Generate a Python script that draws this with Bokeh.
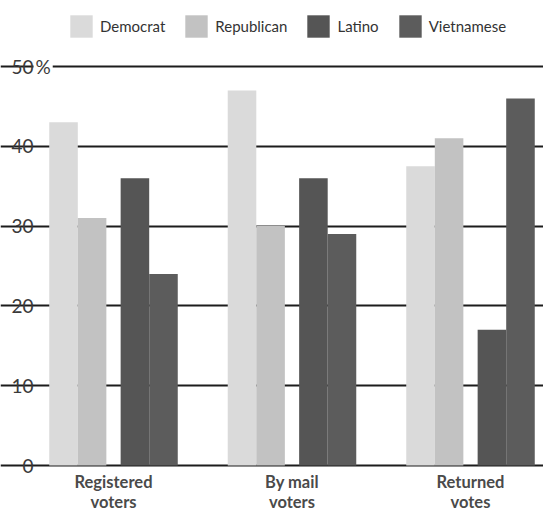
from bokeh.plotting import figure
from bokeh.models import ColumnDataSource, Range1d, FixedTicker, Legend, LegendItem
from bokeh.transform import dodge
from bokeh.core.properties import value
from bokeh.embed import file_html
from bokeh.resources import INLINE

# ---- data ----
categories = ["Registered\nvoters", "By mail\nvoters", "Returned\nvotes"]
series_names = ["Democrat", "Republican", "Latino", "Vietnamese"]
democrat = [43, 47, 37.5]
republican = [31, 30, 41]
latino = [36, 36, 17]
vietnamese = [24, 29, 46]
y_ticks = [0, 10, 20, 30, 40, 50]
y_tick_labels = ["0", "10", "20", "30", "40", "50"]
unit_suffix = "%"

FONT = "Lato"

# ---- layout constants ----
PX_PER_UNIT_X = 178.5
GROUP0_PX = 113.0           # canvas x of first group centre
W, H = 543, 510
ZERO_PX = 465.0             # canvas y of the 0 line
TOP_PX = 66.0               # canvas y of the 50 line
PX_PER_PCT = (ZERO_PX - TOP_PX) / 50.0

x_start = -GROUP0_PX / PX_PER_UNIT_X
x_end = x_start + W / PX_PER_UNIT_X
y_start = -(H - ZERO_PX) / PX_PER_PCT
y_end = ZERO_PX / PX_PER_PCT

p = figure(width=W, height=H, output_backend="svg", toolbar_location=None,
           x_range=Range1d(x_start, x_end), y_range=Range1d(y_start, y_end),
           min_border_left=0, min_border_right=0, min_border_top=0, min_border_bottom=0)
p.outline_line_color = None
p.background_fill_color = "white"
p.border_fill_color = "white"
p.xaxis.visible = False
p.yaxis.visible = False
p.xgrid.visible = False

grid_left = (42 - GROUP0_PX) / PX_PER_UNIT_X
p.ygrid.ticker = FixedTicker(ticks=y_ticks)
p.ygrid.grid_line_color = "#1c1c1c"
p.ygrid.grid_line_width = 1.8
p.ygrid.bounds = (grid_left, x_end)

src = ColumnDataSource(dict(x=list(range(len(categories))), cat=categories,
                            Democrat=democrat, Republican=republican,
                            Latino=latino, Vietnamese=vietnamese))

offsets = [-0.28, -0.12, 0.12, 0.28]
colors = ["#dadada", "#c2c2c2", "#555555", "#5c5c5c"]
bar_w = 0.16
renderers = []
for name, off, col in zip(series_names, offsets, colors):
    r = p.vbar(x=dodge("x", off, range=p.x_range), top=name, width=bar_w,
               source=src, fill_color=col, line_color=None)
    renderers.append(r)

# category labels
p.text(x="x", y=-(6.0 / PX_PER_PCT), text="cat", source=src, text_align="center",
       text_baseline="top", text_font=value(FONT), text_font_style="bold",
       text_font_size="16.5px", text_color="#4a4a4a", text_line_height=1.0)

# y tick labels ("%" first, with white backing that hides the start of the 50 line)
label_x = (33 - GROUP0_PX) / PX_PER_UNIT_X
p.text(x=[label_x], y=[y_ticks[-1]], text=[unit_suffix], text_align="left",
       text_baseline="middle", text_font=value(FONT), text_font_size="19px",
       text_color="#3a3a3a", background_fill_color="white", padding=(2, 10))
tsrc = ColumnDataSource(dict(y=y_ticks, t=y_tick_labels))
p.text(x=label_x, y="y", text="t", source=tsrc, text_align="right",
       text_baseline="middle", text_font=value(FONT), text_font_size="19px",
       text_color="#3a3a3a")

legend = Legend(items=[LegendItem(label=n, renderers=[r]) for n, r in zip(series_names, renderers)],
                orientation="horizontal", location=(67, H - 40),
                glyph_width=28, glyph_height=28, label_standoff=5, spacing=17,
                padding=0, margin=0, border_line_color=None,
                background_fill_alpha=0,
                label_text_font=FONT, label_text_font_size="15px",
                label_text_color="#333333", label_height=28)
p.add_layout(legend)

open("out.html", "w").write(file_html(p, INLINE))
